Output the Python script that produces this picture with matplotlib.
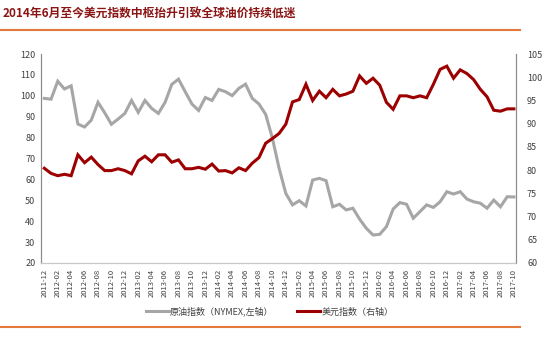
import numpy as np
import pandas as pd
import matplotlib
matplotlib.use("Agg")
import matplotlib.pyplot as plt
from matplotlib.lines import Line2D

plt.rcParams['font.family'] = ['Noto Sans CJK SC', 'DejaVu Sans']

# monthly index, 2011-12 .. 2017-10
months = pd.period_range("2011-12", "2017-10", freq="M").strftime("%Y-%m").tolist()

# NYMEX crude oil index (left axis)
oil = [98.8, 98.4, 107.0, 103.3, 104.8, 86.5, 85.1, 88.4, 96.9, 91.9,
       86.4, 88.9, 91.6, 97.8, 92.1, 97.8, 94.0, 91.6, 96.9, 105.5,
       108.0, 102.0, 96.1, 93.0, 99.2, 97.8, 103.1, 102.0, 100.1, 103.6,
       105.6, 98.8, 96.1, 91.1, 79.7, 65.3, 53.3, 47.8, 49.8, 47.3,
       59.7, 60.5, 59.4, 46.9, 48.1, 45.4, 46.2, 41.0, 36.6, 33.4,
       33.7, 37.4, 45.8, 48.9, 48.1, 41.4, 44.6, 47.8, 46.6, 49.3,
       54.1, 53.0, 54.1, 50.6, 49.3, 48.6, 46.2, 50.1, 46.9, 51.7,
       51.6]

# US dollar index (right axis)
usd = [80.4, 79.3, 78.8, 79.1, 78.8, 83.3, 81.6, 82.8, 81.2, 79.9,
       79.9, 80.3, 79.9, 79.2, 82.0, 83.0, 81.8, 83.3, 83.3, 81.7,
       82.2, 80.3, 80.3, 80.6, 80.2, 81.3, 79.8, 79.9, 79.4, 80.5,
       79.9, 81.5, 82.7, 85.8, 86.8, 87.9, 89.9, 94.7, 95.2, 98.5,
       95.0, 97.0, 95.6, 97.4, 96.0, 96.4, 97.0, 100.3, 98.7, 99.8,
       98.3, 94.6, 93.1, 96.0, 96.0, 95.6, 96.0, 95.6, 98.5, 101.7,
       102.4, 99.8, 101.6, 100.8, 99.5, 97.4, 95.8, 92.9, 92.7, 93.2,
       93.2]

title = "2014年6月至今美元指数中枢抬升引致全球油价持续低迷"
oil_label = "原油指数（NYMEX,左轴）"
usd_label = "美元指数（右轴）"

gray = "#A6A6A6"
red = "#9C0000"
orange = "#E2793A"
txt = "#404040"

fig = plt.figure(figsize=(5.5, 3.38), dpi=100)
ax = fig.add_axes([0.0745, 0.222, 0.8635, 0.618])
ax2 = ax.twinx()

x = np.arange(len(months))
ax.plot(x, oil, color=gray, lw=2.2, solid_joinstyle="miter")
ax2.plot(x, usd, color=red, lw=2.2, solid_joinstyle="miter")

ax.set_xlim(-0.5, len(months) - 0.7)
ax.set_ylim(20, 120)
ax.set_yticks(np.arange(20, 121, 10))
ax2.set_ylim(60, 105)
ax2.set_yticks(np.arange(60, 106, 5))

ax.set_xticks(x[::2])
ax.set_xticklabels(months[::2], rotation=90, fontsize=5.5, color=txt)
ax.tick_params(axis="both", length=0, pad=4)
ax.tick_params(axis="y", labelsize=6.5, labelcolor=txt)
ax2.tick_params(axis="y", length=0, labelsize=6.5, labelcolor=txt, pad=8)

for a in (ax, ax2):
    a.spines["top"].set_visible(False)
    a.spines["left"].set_color("#8C8C8C")
    a.spines["right"].set_color("#8C8C8C")
    a.spines["bottom"].set_color("#C8C8C8")
    a.spines["bottom"].set_linestyle((0, (1, 1)))
    a.spines["left"].set_linewidth(0.8)
    a.spines["right"].set_linewidth(0.8)

# title and the orange rules above and below the chart
fig.text(0.004, 0.962, title, fontsize=8.5, fontweight="bold", color="#8B1414",
         ha="left", va="center")
fig.add_artist(Line2D([0, 0.945], [0.912, 0.912], color=orange, lw=1.5))
fig.add_artist(Line2D([0, 0.945], [0.032, 0.032], color=orange, lw=1.5))

handles = [Line2D([], [], color=gray, lw=2.2), Line2D([], [], color=red, lw=2.2)]
fig.legend(handles, [oil_label, usd_label], loc="center", bbox_to_anchor=(0.49, 0.078),
           ncol=2, frameon=False, fontsize=6.5, handlelength=2.6, handletextpad=0.1,
           columnspacing=2.6, labelcolor=txt)

fig.savefig("out.png", dpi=100)
